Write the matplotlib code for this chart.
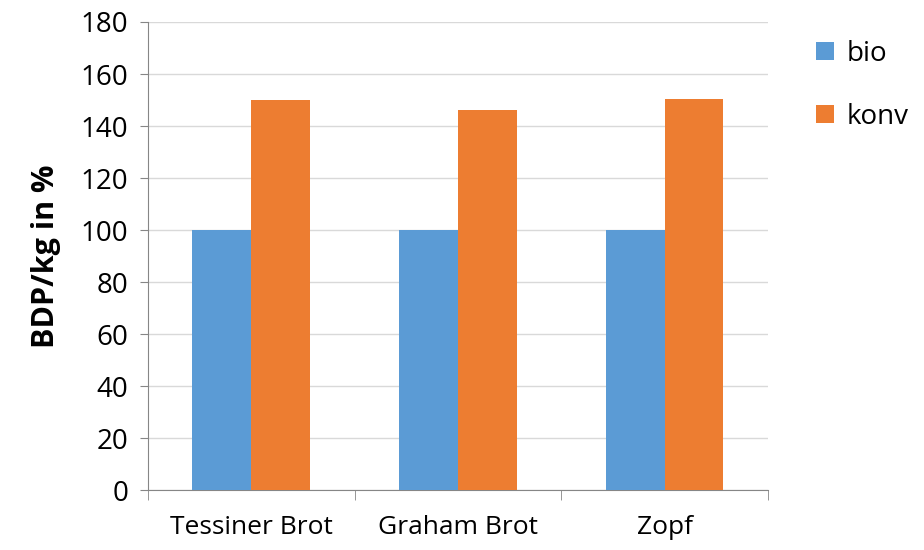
import numpy as np
import matplotlib.pyplot as plt

categories = ["Tessiner Brot", "Graham Brot", "Zopf"]
bio = [100, 100, 100]
konv = [150, 146, 150.5]
series_names = ["bio", "konv"]

plt.rcParams['font.family'] = ['Open Sans', 'DejaVu Sans']

fig = plt.figure(figsize=(9.24, 5.5), dpi=100)
ax = fig.add_axes([0.160, 0.109, 0.671, 0.851])

x = np.arange(len(categories))
w = 0.285
b1 = ax.bar(x - w / 2, bio, w, color='#5B9BD5', label=series_names[0], zorder=3)
b2 = ax.bar(x + w / 2, konv, w, color='#ED7D31', label=series_names[1], zorder=3)

ax.set_ylim(0, 180)
ax.set_xlim(-0.5, 2.5)
ax.set_yticks(np.arange(0, 181, 20))
ax.yaxis.grid(True, color='#D9D9D9', linewidth=1, zorder=0)
ax.set_axisbelow(True)

ax.set_xticks(x)
ax.set_xticklabels(categories, fontsize=19)
ax.set_xticks([-0.5, 0.5, 1.5, 2.5], minor=True)
ax.tick_params(axis='x', which='major', length=0, pad=18)
ax.tick_params(axis='x', which='minor', length=7, color='#868686', direction='out')
ax.tick_params(axis='y', labelsize=20, length=6, color='#868686', pad=8)

for s in ['top', 'right']:
    ax.spines[s].set_visible(False)
for s in ['left', 'bottom']:
    ax.spines[s].set_color('#868686')

ax.set_ylabel("BDP/kg in %", fontsize=22, fontweight='bold', labelpad=14)

fig.legend(handles=[b1, b2], loc='upper left', bbox_to_anchor=(0.856, 0.973),
           frameon=False, fontsize=20, handlelength=0.65, handleheight=0.65,
           handletextpad=0.45, labelspacing=1.25)

fig.savefig("out.png", dpi=100)
